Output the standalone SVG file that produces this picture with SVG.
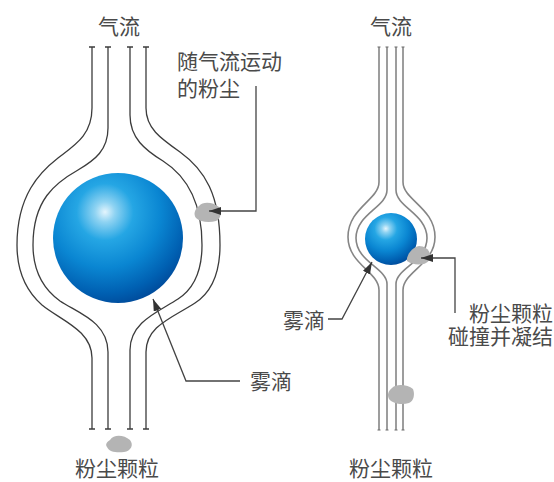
<svg xmlns="http://www.w3.org/2000/svg" width="554" height="482" viewBox="0 0 554 482">
  <style>
    .lbl { font-family: "Noto Sans CJK SC", "Noto Sans", sans-serif; font-size: 21px; fill: #4a4a4a; }
    .flow-a { fill: none; stroke: #3c3c3c; stroke-width: 1.3; }
    .flow-b { fill: none; stroke: #858585; stroke-width: 1.6; }
    .tick-a { stroke: #3c3c3c; stroke-width: 1.3; }
    .tick-b { stroke: #6a6a6a; stroke-width: 1.2; }
    .lead { fill: none; stroke: #444; stroke-width: 1.3; }
    .dust { fill: #b4b4b4; filter: url(#soft); }
  </style>
  <defs>
    <radialGradient id="drop" cx="0.4" cy="0.3" r="0.78" fx="0.4" fy="0.3">
      <stop offset="0" stop-color="#e4f5fd"/>
      <stop offset="0.1" stop-color="#8fd3f2"/>
      <stop offset="0.28" stop-color="#25a6e4"/>
      <stop offset="0.55" stop-color="#0a86d2"/>
      <stop offset="0.8" stop-color="#0060b2"/>
      <stop offset="1" stop-color="#00408f"/>
    </radialGradient>
    <filter id="soft" x="-20%" y="-20%" width="140%" height="140%">
      <feGaussianBlur stdDeviation="0.5"/>
    </filter>
    <marker id="arrow" markerUnits="userSpaceOnUse" markerWidth="13" markerHeight="9" refX="12" refY="4" orient="auto">
      <path d="M0,0 L12,4 L0,8 Z" fill="#333"/>
    </marker>
  </defs>

  <!-- Left: large droplet, air flowing around it -->
  <g id="flow-left">
    <path class="flow-a" d="M92,47 V108 C92,135 75,145 58,158 C40,172 17,195 17,245 C17,270 25,290 42,305 C60,320 92,330 92,358 V429"/>
    <path class="flow-a" d="M108,47 V128 C108,150 95,160 78,170 C55,183 33,200 33,245 C33,270 42,288 60,301 C78,313 108,322 108,352 V429"/>
    <path class="flow-a" d="M130,47 V115 C130,138 145,150 163,161 C185,175 202,200 202,245 C202,270 195,288 178,299 C158,312 130,322 130,350 V429"/>
    <path class="flow-a" d="M146,47 V108 C146,128 160,138 180,152 C205,170 220,195 220,245 C220,272 212,292 195,303 C172,318 146,326 146,352 V429"/>
    <path class="tick-a" d="M89,47 H95 M105,47 H111 M127,47 H133 M143,47 H149 M89,429 H95 M105,429 H111 M127,429 H133 M143,429 H149"/>
  </g>
  <g id="droplet-large">
    <circle cx="118" cy="238" r="65" fill="url(#drop)"/>
  </g>
  <g id="dust-follow">
    <path class="dust" d="M199,206 C203,201 213,202 219,207 C222,212 221,219 216,221 C209,223 200,222 196,218 C193,214 195,209 199,206 Z"/>
  </g>
  <g id="dust-left">
    <path class="dust" d="M110,440 C114,434 124,435 130,440 C134,445 131,451 124,452 C117,453 109,452 107,447 C105,444 107,442 110,440 Z"/>
  </g>

  <!-- Right: small droplet, dust colliding with it -->
  <g id="flow-right">
    <path class="flow-b" d="M379,47 V182 C379,200 348,208 348,237 C348,264 379,272 379,290 V430"/>
    <path class="flow-b" d="M387,47 V190 C387,207 356,214 356,238 C356,262 387,268 387,284 V430"/>
    <path class="flow-b" d="M396,47 V190 C396,207 427,214 427,238 C427,262 396,268 396,284 V430"/>
    <path class="flow-b" d="M403,47 V182 C403,200 435,208 435,237 C435,264 403,272 403,290 V430"/>
    <path class="tick-b" d="M377.5,47 H380.5 M385.5,47 H388.5 M394.5,47 H397.5 M401.5,47 H404.5 M377.5,430 H380.5 M385.5,430 H388.5 M394.5,430 H397.5 M401.5,430 H404.5"/>
  </g>
  <g id="droplet-small">
    <circle cx="391" cy="239" r="26" fill="url(#drop)"/>
  </g>
  <g id="dust-collide">
    <path class="dust" d="M407,258 C409,251 414,247 419,246 C424,246 429,249 430,254 C431,259 428,263 423,264 C417,265 411,264 407,261 Z"/>
  </g>
  <g id="dust-right">
    <path class="dust" d="M392,388 C397,383 408,385 413,389 C415,394 414,401 409,403 C402,405 393,404 389,399 C387,395 388,391 392,388 Z"/>
  </g>

  <!-- Leader lines -->
  <g id="connectors">
    <path class="lead" d="M256,86 V211 H209" marker-end="url(#arrow)"/>
    <path class="lead" d="M240,381 H186 L153,299" marker-end="url(#arrow)"/>
    <path class="lead" d="M455,313 V258 H421" marker-end="url(#arrow)"/>
    <path class="lead" d="M328,319 H342 L372,262" marker-end="url(#arrow)"/>
  </g>

  <!-- Labels -->
  <g id="labels">
    <text class="lbl" x="119" y="34" text-anchor="middle">气流</text>
    <text class="lbl" x="391" y="34" text-anchor="middle">气流</text>
    <text class="lbl"><tspan x="177" y="69">随气流运动</tspan><tspan x="177" y="96">的粉尘</tspan></text>
    <text class="lbl" x="250" y="389">雾滴</text>
    <text class="lbl" x="117" y="476" text-anchor="middle">粉尘颗粒</text>
    <text class="lbl" x="391" y="476" text-anchor="middle">粉尘颗粒</text>
    <text class="lbl" x="283" y="328">雾滴</text>
    <text class="lbl"><tspan x="469" y="321">粉尘颗粒</tspan><tspan x="448" y="344">碰撞并凝结</tspan></text>
  </g>
</svg>
